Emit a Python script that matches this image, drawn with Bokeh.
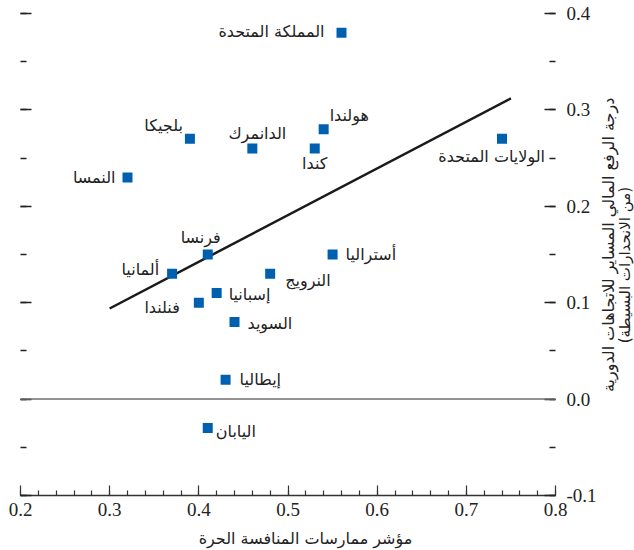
import math
from bokeh.plotting import figure
from bokeh.layouts import row, column
from bokeh.models import (Range1d, LinearAxis, FixedTicker, PrintfTickFormatter,
                          CustomJSTickFormatter, Span)
from bokeh.embed import file_html
from bokeh.resources import INLINE
from bokeh.core.properties import value

# ---------------- data ----------------
countries = ["المملكة المتحدة", "هولندا", "كندا", "الولايات المتحدة", "بلجيكا",
             "الدانمرك", "النمسا", "فرنسا", "ألمانيا", "النرويج", "إسبانيا",
             "فنلندا", "السويد", "إيطاليا", "أستراليا", "اليابان"]
competition_index = [0.56, 0.54, 0.53, 0.74, 0.39, 0.46, 0.32, 0.41, 0.37,
                     0.48, 0.42, 0.40, 0.44, 0.43, 0.55, 0.41]
procyclical_leverage = [0.38, 0.28, 0.26, 0.27, 0.27, 0.26, 0.23, 0.15, 0.13,
                        0.13, 0.11, 0.10, 0.08, 0.02, 0.15, -0.03]
fit_x = [0.30, 0.75]
fit_y = [0.094, 0.312]
x_ticks = [0.2, 0.3, 0.4, 0.5, 0.6, 0.7, 0.8]
y_ticks = [-0.1, 0.0, 0.1, 0.2, 0.3, 0.4]
x_title = "مؤشر ممارسات المنافسة الحرة"
y_title_1 = "درجة الرفع المالي المساير للاتجاهات الدورية"
y_title_2 = "(من الانحدارات البسيطة)"

# ---------------- label layout (pixels) ----------------
label_layout = {
    "المملكة المتحدة": ("right", -17, -1),
    "هولندا": ("left", 6, -14),
    "كندا": ("center", 0, 15),
    "الولايات المتحدة": ("right", 43, 18),
    "بلجيكا": ("right", -7, -13),
    "الدانمرك": ("center", 5, -15),
    "النمسا": ("right", -12, 0),
    "فرنسا": ("right", 13, -17),
    "ألمانيا": ("right", -13, -4),
    "النرويج": ("left", 15, 7),
    "إسبانيا": ("left", 12, 1),
    "فنلندا": ("right", -19, 5),
    "السويد": ("left", 13, 2),
    "إيطاليا": ("left", 14, 0),
    "أستراليا": ("left", 13, 0),
    "اليابان": ("left", 8, 3),
}

ARABIC = "DejaVu Sans"
NUM = "Liberation Sans Narrow"
TXT = "#222222"

x_rng = Range1d(0.2, 0.8)
y_rng = Range1d(-0.1, 0.4)
p = figure(width=599, height=525, output_backend="svg", toolbar_location=None,
           x_range=x_rng, y_range=y_rng,
           min_border_left=20, min_border_right=43, min_border_top=13,
           min_border_bottom=30, x_axis_location="below", y_axis_location="left")
p.outline_line_color = None
p.xgrid.visible = False
p.ygrid.visible = False
p.background_fill_color = "white"
p.border_fill_color = "white"

minor_x = [round(0.2 + 0.02 * i, 2) for i in range(31)]
minor_y = [round(-0.1 + 0.05 * i, 2) for i in range(11)]

# bottom axis
xa = p.xaxis[0]
xa.ticker = FixedTicker(ticks=x_ticks, minor_ticks=minor_x)
xa.formatter = PrintfTickFormatter(format="%.1f")
xa.axis_line_color = "#333333"
xa.axis_line_width = 1.4
xa.major_tick_in = 10
xa.major_tick_out = 0
xa.minor_tick_in = 5
xa.minor_tick_out = 0
xa.major_tick_line_color = "#333333"
xa.minor_tick_line_color = "#333333"
xa.major_tick_line_width = 1.2
xa.minor_tick_line_width = 1.2
xa.major_label_standoff = 7
xa.major_label_text_font = NUM
xa.major_label_text_font_size = "19px"
xa.major_label_text_color = TXT
xa.axis_label_standoff = 0

# left axis: ticks only
ya = p.yaxis[0]
ya.ticker = FixedTicker(ticks=y_ticks, minor_ticks=minor_y)
ya.formatter = CustomJSTickFormatter(code="return ''")
ya.axis_line_color = None
ya.major_tick_in = 11
ya.major_tick_out = 0
ya.minor_tick_in = 6
ya.minor_tick_out = 0
ya.major_tick_line_color = "#222222"
ya.minor_tick_line_color = "#222222"
ya.major_tick_line_width = 1.5
ya.minor_tick_line_width = 1.5
ya.major_label_standoff = 0
ya.major_label_text_color = None
ya.axis_label_standoff = 0

# right axis with labels
ra = LinearAxis(ticker=FixedTicker(ticks=y_ticks, minor_ticks=minor_y),
                formatter=PrintfTickFormatter(format="%.1f"))
ra.axis_line_color = None
ra.major_tick_in = 11
ra.major_tick_out = 0
ra.minor_tick_in = 6
ra.minor_tick_out = 0
ra.major_tick_line_color = "#222222"
ra.minor_tick_line_color = "#222222"
ra.major_tick_line_width = 1.5
ra.minor_tick_line_width = 1.5
ra.major_label_standoff = 11
ra.major_label_text_font = NUM
ra.major_label_text_font_size = "19px"
ra.major_label_text_color = TXT
ra.axis_label_standoff = 0
p.add_layout(ra, "right")

# zero line
p.add_layout(Span(location=0, dimension="width", line_color="#6e6e6e",
                  line_width=1.5))

# regression line
p.line(fit_x, fit_y, line_color="#1a1a1a", line_width=2.5)

# points
p.scatter(competition_index, procyclical_leverage, marker="square", size=10,
          fill_color="#0060b0", line_color=None)

# point labels
for i, name in enumerate(countries):
    align, dx, dy = label_layout[name]
    p.text(x=[competition_index[i]], y=[procyclical_leverage[i]], text=[name],
           x_offset=dx, y_offset=dy, text_align=align, text_baseline="middle",
           text_font=value(ARABIC), text_font_size="16px", text_color=TXT)

# side panel carrying the rotated right-hand title
side = figure(width=35, height=525, output_backend="svg", toolbar_location=None,
              x_range=Range1d(0, 35), y_range=y_rng,
              x_axis_location=None, y_axis_location=None,
              min_border_left=0, min_border_right=0, min_border_top=13,
              min_border_bottom=30)
side.outline_line_color = None
side.xgrid.visible = False
side.ygrid.visible = False
side.text(x=[9], y=[0.160], text=[y_title_1], angle=math.pi / 2,
          text_align="center", text_baseline="middle",
          text_font=value(ARABIC), text_font_size="16px", text_color=TXT)
side.text(x=[25], y=[0.139], text=[y_title_2], angle=math.pi / 2,
          text_align="center", text_baseline="middle",
          text_font=value(ARABIC), text_font_size="15px", text_color=TXT)

# bottom strip carrying the x-axis title (shares the x scale)
bottom = figure(width=634, height=25, output_backend="svg", toolbar_location=None,
                x_range=x_rng, y_range=Range1d(0, 1),
                x_axis_location=None, y_axis_location=None,
                min_border_left=20, min_border_right=78, min_border_top=0,
                min_border_bottom=0)
bottom.outline_line_color = None
bottom.xgrid.visible = False
bottom.ygrid.visible = False
bottom.text(x=[0.5], y=[0.5], text=[x_title], x_offset=17,
            text_align="center", text_baseline="middle",
            text_font=value(ARABIC), text_font_size="16px", text_color=TXT)

layout = column(row(p, side, spacing=0), bottom, spacing=0)
open("out.html", "w").write(file_html(layout, INLINE))
